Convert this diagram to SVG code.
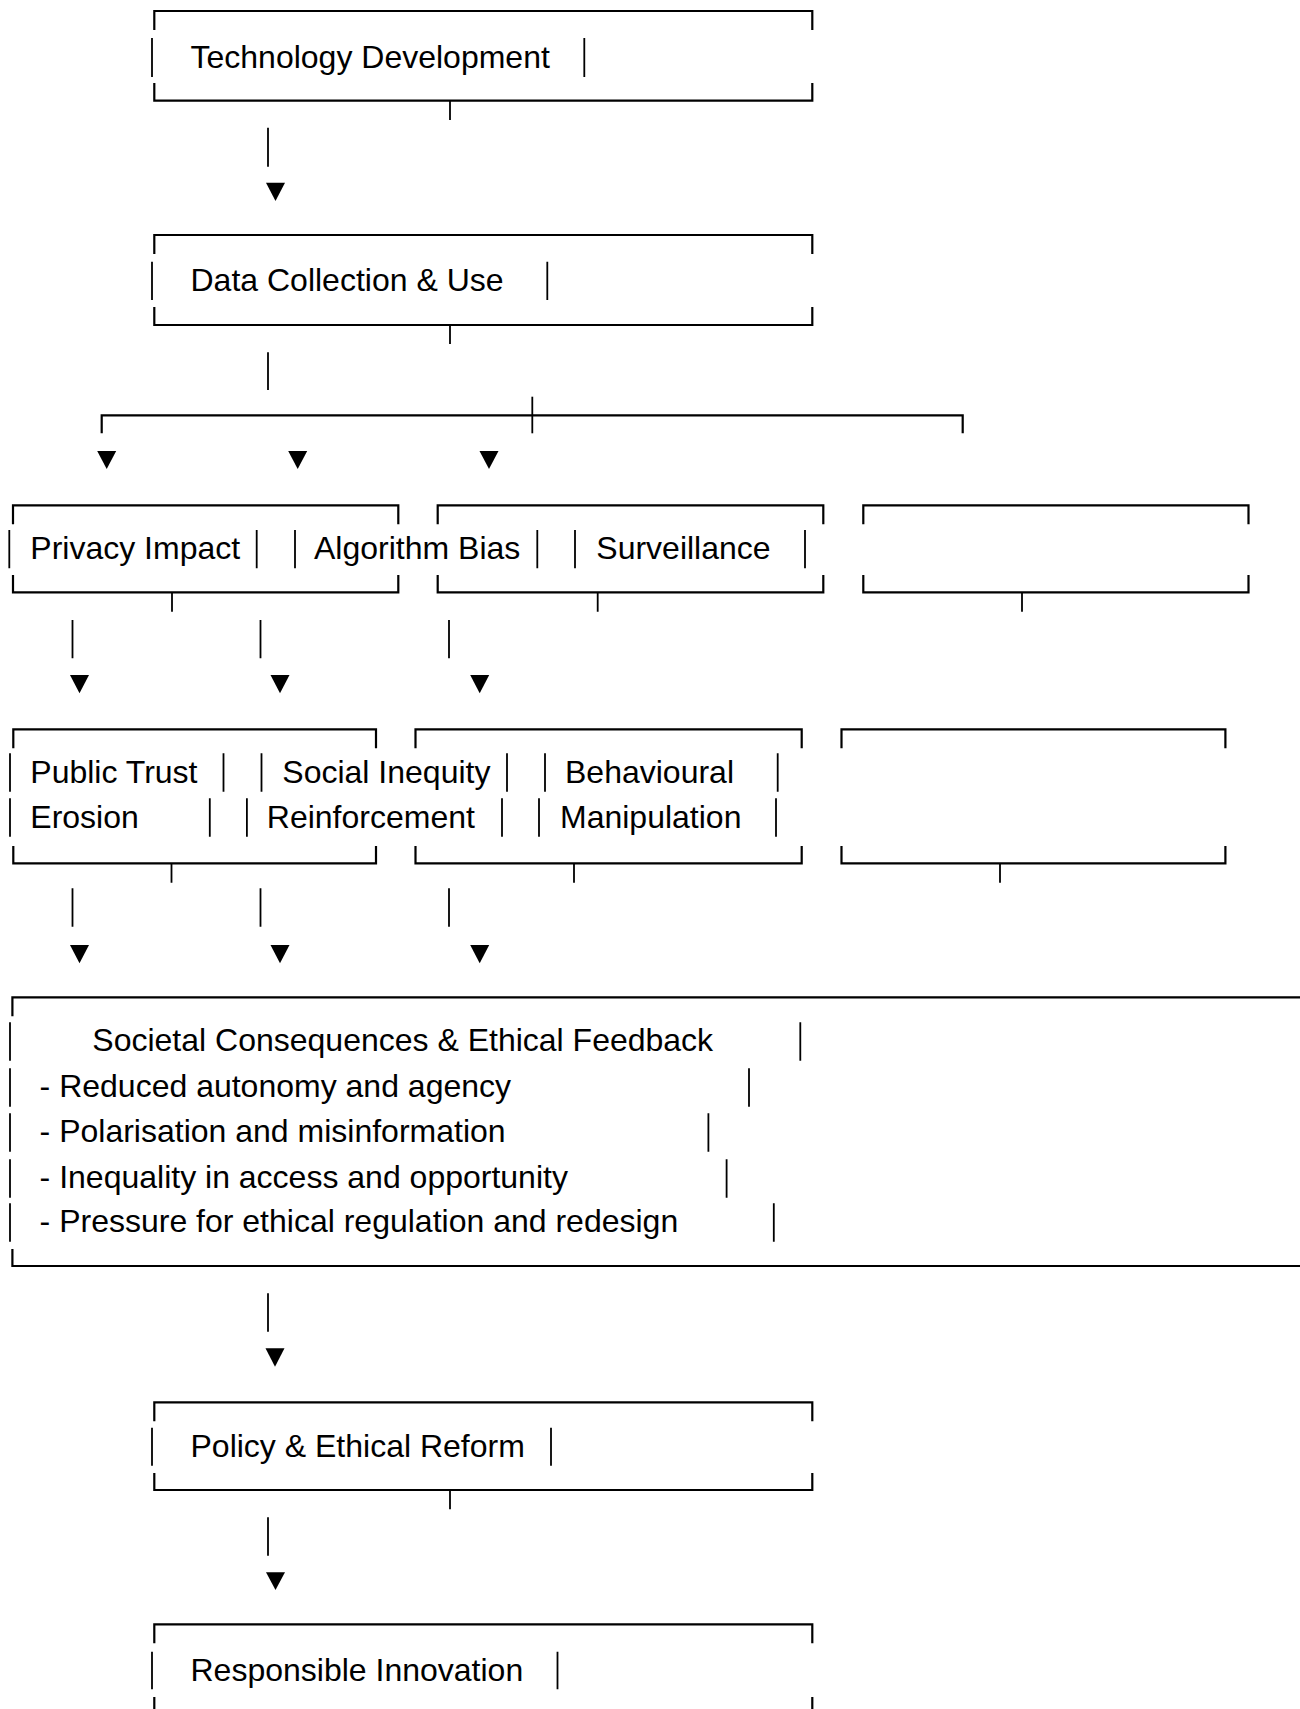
<svg xmlns="http://www.w3.org/2000/svg" width="1300" height="1709" viewBox="0 0 1300 1709">
<style>
.box{fill:none;stroke:#000;stroke-width:2.2}
.bar{fill:none;stroke:#000;stroke-width:1.8}
.cn{fill:none;stroke:#000;stroke-width:1.8}
.ah{fill:#000;stroke:none}
.t{font-family:"Liberation Sans",Arial,sans-serif;font-size:32px;fill:#000}
</style>
<rect width="1300" height="1709" fill="#fff"/>

<g id="technology-development">
<path class="box" d="M154.3 30 V11 H812.3 V30 M154.3 83 V100.7 H812.3 V83"/>
<path class="bar" d="M152 38 V77 M584.3 38 V77"/>
<text class="t" x="190.5" y="67.5">Technology Development</text>
</g>

<g id="data-collection">
<path class="box" d="M154.3 254 V235 H812.3 V254 M154.3 307 V325 H812.3 V307"/>
<path class="bar" d="M152 261.7 V300 M547.3 261.7 V300"/>
<text class="t" x="190.5" y="290.7">Data Collection &amp; Use</text>
</g>

<g id="privacy-impact">
<path class="box" d="M13 524.3 V505.3 H398.3 V524.3 M13 575 V592.3 H398.3 V575"/>
<path class="bar" d="M9.3 530 V568.3 M256.7 530 V568.3"/>
<text class="t" x="30.3" y="559">Privacy Impact</text>
</g>

<g id="algorithm-bias">
<path class="box" d="M437.7 524.3 V505.3 H823.3 V524.3 M437.7 575 V592.3 H823.3 V575"/>
<path class="bar" d="M295 530 V568.3 M537.3 530 V568.3"/>
<text class="t" x="314" y="559">Algorithm Bias</text>
</g>

<g id="surveillance">
<path class="box" d="M863.3 524.3 V505.3 H1248.5 V524.3 M863.3 575 V592.3 H1248.5 V575"/>
<path class="bar" d="M575 530 V568.3 M805 530 V568.3"/>
<text class="t" x="596.3" y="559">Surveillance</text>
</g>

<g id="public-trust-erosion">
<path class="box" d="M13.3 748.3 V729.3 H376 V748.3 M13.3 846 V863.3 H376 V846"/>
<path class="bar" d="M10 753.3 V791.7 M223.5 753.3 V791.7 M10 798.3 V836.7 M209.8 798.3 V836.7"/>
<text class="t" x="30.3" y="782.8">Public Trust</text>
<text class="t" x="30.3" y="827.6">Erosion</text>
</g>

<g id="social-inequity-reinforcement">
<path class="box" d="M415.5 748.3 V729.3 H801.7 V748.3 M415.5 846 V863.3 H801.7 V846"/>
<path class="bar" d="M261.5 753.3 V791.7 M507 753.3 V791.7 M246.9 798.3 V836.7 M502 798.3 V836.7"/>
<text class="t" x="282.3" y="782.8">Social Inequity</text>
<text class="t" x="266.8" y="827.6">Reinforcement</text>
</g>

<g id="behavioural-manipulation">
<path class="box" d="M841.5 748.3 V729.3 H1225.4 V748.3 M841.5 846 V863.3 H1225.4 V846"/>
<path class="bar" d="M545 753.3 V791.7 M777.7 753.3 V791.7 M539 798.3 V836.7 M776 798.3 V836.7"/>
<text class="t" x="565" y="782.8">Behavioural</text>
<text class="t" x="560" y="827.6">Manipulation</text>
</g>

<g id="societal-consequences">
<path class="box" d="M12.4 1016.3 V997.3 H1300 M12.4 1249 V1266 H1300"/>
<path class="bar" d="M10 1022.3 V1060.7 M800.3 1022.3 V1060.7 M10 1068.3 V1106.7 M749 1068.3 V1106.7 M10 1113.3 V1151.7 M708.4 1113.3 V1151.7 M10 1159.3 V1197.7 M726.6 1159.3 V1197.7 M10 1203.3 V1241.7 M773.8 1203.3 V1241.7"/>
<text class="t" x="92.3" y="1051.3">Societal Consequences &amp; Ethical Feedback</text>
<text class="t" x="39.6" y="1097.3">- Reduced autonomy and agency</text>
<text class="t" x="39.6" y="1142.3">- Polarisation and misinformation</text>
<text class="t" x="39.6" y="1188.3">- Inequality in access and opportunity</text>
<text class="t" x="39.6" y="1232.3">- Pressure for ethical regulation and redesign</text>
</g>

<g id="policy-ethical-reform">
<path class="box" d="M154.3 1421.3 V1402.3 H812.3 V1421.3 M154.3 1473 V1490 H812.3 V1473"/>
<path class="bar" d="M152 1427.7 V1465.7 M551 1427.7 V1465.7"/>
<text class="t" x="190.5" y="1456.7">Policy &amp; Ethical Reform</text>
</g>

<g id="responsible-innovation">
<path class="box" d="M154.3 1643.3 V1624.3 H812.3 V1643.3 M154.3 1697 V1714 H812.3 V1697"/>
<path class="bar" d="M152 1651.7 V1689.3 M557.5 1651.7 V1689.3"/>
<text class="t" x="190.5" y="1680.7">Responsible Innovation</text>
</g>

<g id="connectors">
<path class="cn" d="M450 100.7 V120 M268 127.7 V166.7"/>
<polygon class="ah" points="266,182.7 285,182.7 275.5,201"/>
<path class="cn" d="M450 325 V344 M268 352.3 V390"/>
<path class="box" d="M101.7 433.3 V415.3 H962.7 V433.3"/>
<path class="cn" d="M532.3 396.7 V433.3"/>
<polygon class="ah" points="97.2,451 116.2,451 106.7,469"/>
<polygon class="ah" points="288.2,451 307.2,451 297.7,469"/>
<polygon class="ah" points="479.5,451 498.5,451 489,469"/>
<path class="cn" d="M172 592.3 V611.7 M597.7 592.3 V611.7 M1022 592.3 V611.7"/>
<path class="cn" d="M72.5 620 V658.3 M260.5 620 V658.3 M449 620 V658.3"/>
<polygon class="ah" points="70,675 89,675 79.5,693.3"/>
<polygon class="ah" points="270.5,675 289.5,675 280,693.3"/>
<polygon class="ah" points="470.2,675 489.2,675 479.7,693.3"/>
<path class="cn" d="M171.5 863.3 V882.7 M574 863.3 V882.7 M1000 863.3 V882.7"/>
<path class="cn" d="M72.5 888.3 V926.7 M260.5 888.3 V926.7 M449 888.3 V926.7"/>
<polygon class="ah" points="70,945 89,945 79.5,963.3"/>
<polygon class="ah" points="270.5,945 289.5,945 280,963.3"/>
<polygon class="ah" points="470.2,945 489.2,945 479.7,963.3"/>
<path class="cn" d="M268 1293.3 V1331.7"/>
<polygon class="ah" points="265.5,1348.3 284.5,1348.3 275,1366.7"/>
<path class="cn" d="M450 1490 V1509.3 M268 1517.3 V1555.7"/>
<polygon class="ah" points="266,1572.3 285,1572.3 275.5,1590"/>
</g>
</svg>
